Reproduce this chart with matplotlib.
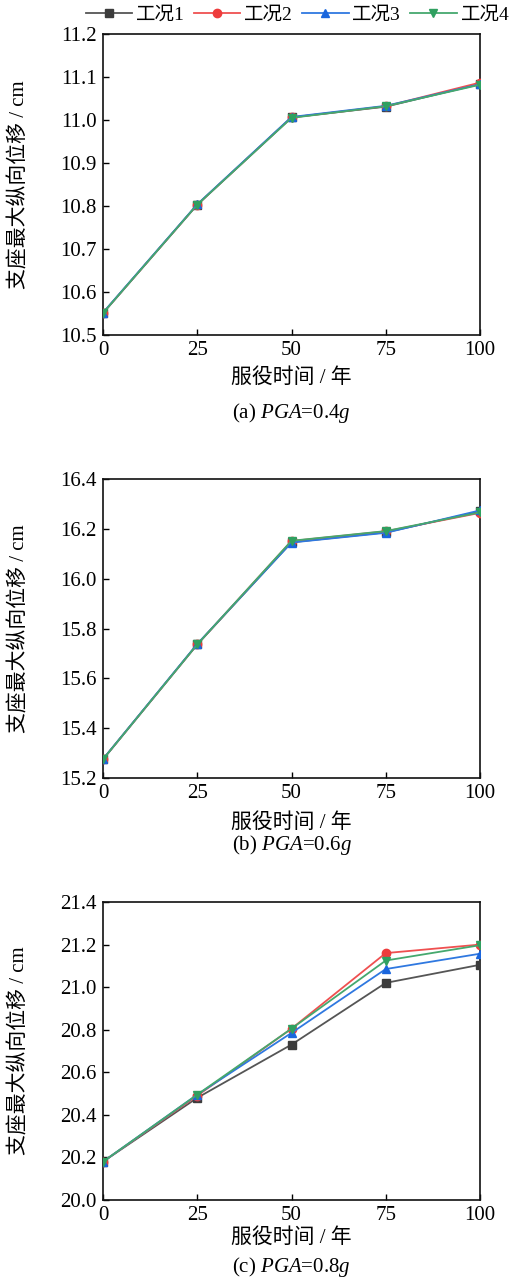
import numpy as np
import matplotlib
matplotlib.use("Agg")
import matplotlib.pyplot as plt
from matplotlib.lines import Line2D

plt.rcParams['font.family'] = ['Liberation Serif', 'Noto Sans CJK SC']
plt.rcParams['mathtext.fontset'] = 'custom'
plt.rcParams['mathtext.rm'] = 'Liberation Serif'
plt.rcParams['mathtext.it'] = 'Liberation Serif:italic'

# Service time (years)
years = [0, 25, 50, 75, 100]
case_names = ['工况1', '工况2', '工况3', '工况4']

# Maximum longitudinal bearing displacement (cm), PGA = 0.4g
pga04_case1 = [10.551, 10.803, 11.006, 11.031, 11.084]
pga04_case2 = [10.551, 10.803, 11.006, 11.032, 11.087]
pga04_case3 = [10.552, 10.804, 11.007, 11.033, 11.083]
pga04_case4 = [10.551, 10.803, 11.005, 11.032, 11.082]

# PGA = 0.6g
pga06_case1 = [15.275, 15.736, 16.146, 16.186, 16.270]
pga06_case2 = [15.275, 15.736, 16.151, 16.190, 16.264]
pga06_case3 = [15.276, 15.738, 16.145, 16.184, 16.274]
pga06_case4 = [15.275, 15.736, 16.152, 16.191, 16.266]

# PGA = 0.8g
pga08_case1 = [20.18, 20.48, 20.73, 21.02, 21.105]
pga08_case2 = [20.18, 20.49, 20.805, 21.16, 21.200]
pga08_case3 = [20.18, 20.495, 20.785, 21.085, 21.157]
pga08_case4 = [20.18, 20.495, 20.805, 21.125, 21.197]

panels = [
    dict(series=[pga04_case1, pga04_case2, pga04_case3, pga04_case4],
         ylim=(10.5, 11.2), yticks=np.arange(10.5, 11.21, 0.1),
         caption='(a) $PGA$=0.4$g$'),
    dict(series=[pga06_case1, pga06_case2, pga06_case3, pga06_case4],
         ylim=(15.2, 16.4), yticks=np.arange(15.2, 16.41, 0.2),
         caption='(b) $PGA$=0.6$g$'),
    dict(series=[pga08_case1, pga08_case2, pga08_case3, pga08_case4],
         ylim=(20.0, 21.4), yticks=np.arange(20.0, 21.41, 0.2),
         caption='(c) $PGA$=0.8$g$'),
]

line_colors = ['#555555', '#ef5050', '#2f78e0', '#45a86e']
marker_colors = ['#3c3c3c', '#ee3c3c', '#1a66dd', '#2fa060']
markers = ['s', 'o', '^', 'v']

W, H = 511, 1279
fig = plt.figure(figsize=(W / 100, H / 100), dpi=100)

# axes boxes in pixels: (top, bottom)
boxes = [(34, 335), (479, 778), (902, 1200)]
xlabel_off = [43, 45, 38]
caption_off = [78, 67, 67]
left_px, right_px = 103, 480

tick_fs = 15
label_fs = 15

for i, (p, (top, bot)) in enumerate(zip(panels, boxes)):
    ax = fig.add_axes([left_px / W, 1 - bot / H, (right_px - left_px) / W, (bot - top) / H])
    for j, ys in enumerate(p['series']):
        ax.plot(years, ys, color=line_colors[j], lw=1.3, marker=markers[j],
                markersize=6, markerfacecolor=marker_colors[j],
                markeredgecolor=marker_colors[j], label=case_names[j], zorder=3 + j)
    ax.set_xlim(0, 100)
    ax.set_ylim(*p['ylim'])
    ax.set_xticks(years)
    ax.set_yticks(p['yticks'])
    ax.set_yticklabels([f'{v:.1f}' for v in p['yticks']])
    ax.tick_params(direction='in', length=4, width=1.0, labelsize=tick_fs,
                   top=False, right=False)
    ax.tick_params(axis='x', pad=4.5)
    ax.tick_params(axis='y', pad=4.5)
    for s in ax.spines.values():
        s.set_linewidth(1.2)
        s.set_color('#111111')
    ax.set_ylabel('支座最大纵向位移 / cm', fontsize=label_fs)
    ax.yaxis.set_label_coords(-(left_px - 30) / (right_px - left_px), 0.5)
    ax.annotate('服役时间 / 年', xy=(0.5, 0), xycoords='axes fraction',
                xytext=(0, -xlabel_off[i]), textcoords='offset pixels',
                ha='center', va='center', fontsize=label_fs)
    ax.annotate(p['caption'], xy=(0.5, 0), xycoords='axes fraction',
                xytext=(0, -caption_off[i]), textcoords='offset pixels',
                ha='center', va='center', fontsize=label_fs)

handles = [Line2D([], [], color=line_colors[j], lw=1.3, marker=markers[j], markersize=6,
                  markerfacecolor=marker_colors[j], markeredgecolor=marker_colors[j])
           for j in range(4)]
fig.legend(handles, case_names, loc='upper center', bbox_to_anchor=(0.582, 1.004),
           ncol=4, frameon=False, fontsize=14, handlelength=2.4,
           handletextpad=0.2, columnspacing=0.45, borderpad=0.1)

fig.savefig('out.png', dpi=100)
